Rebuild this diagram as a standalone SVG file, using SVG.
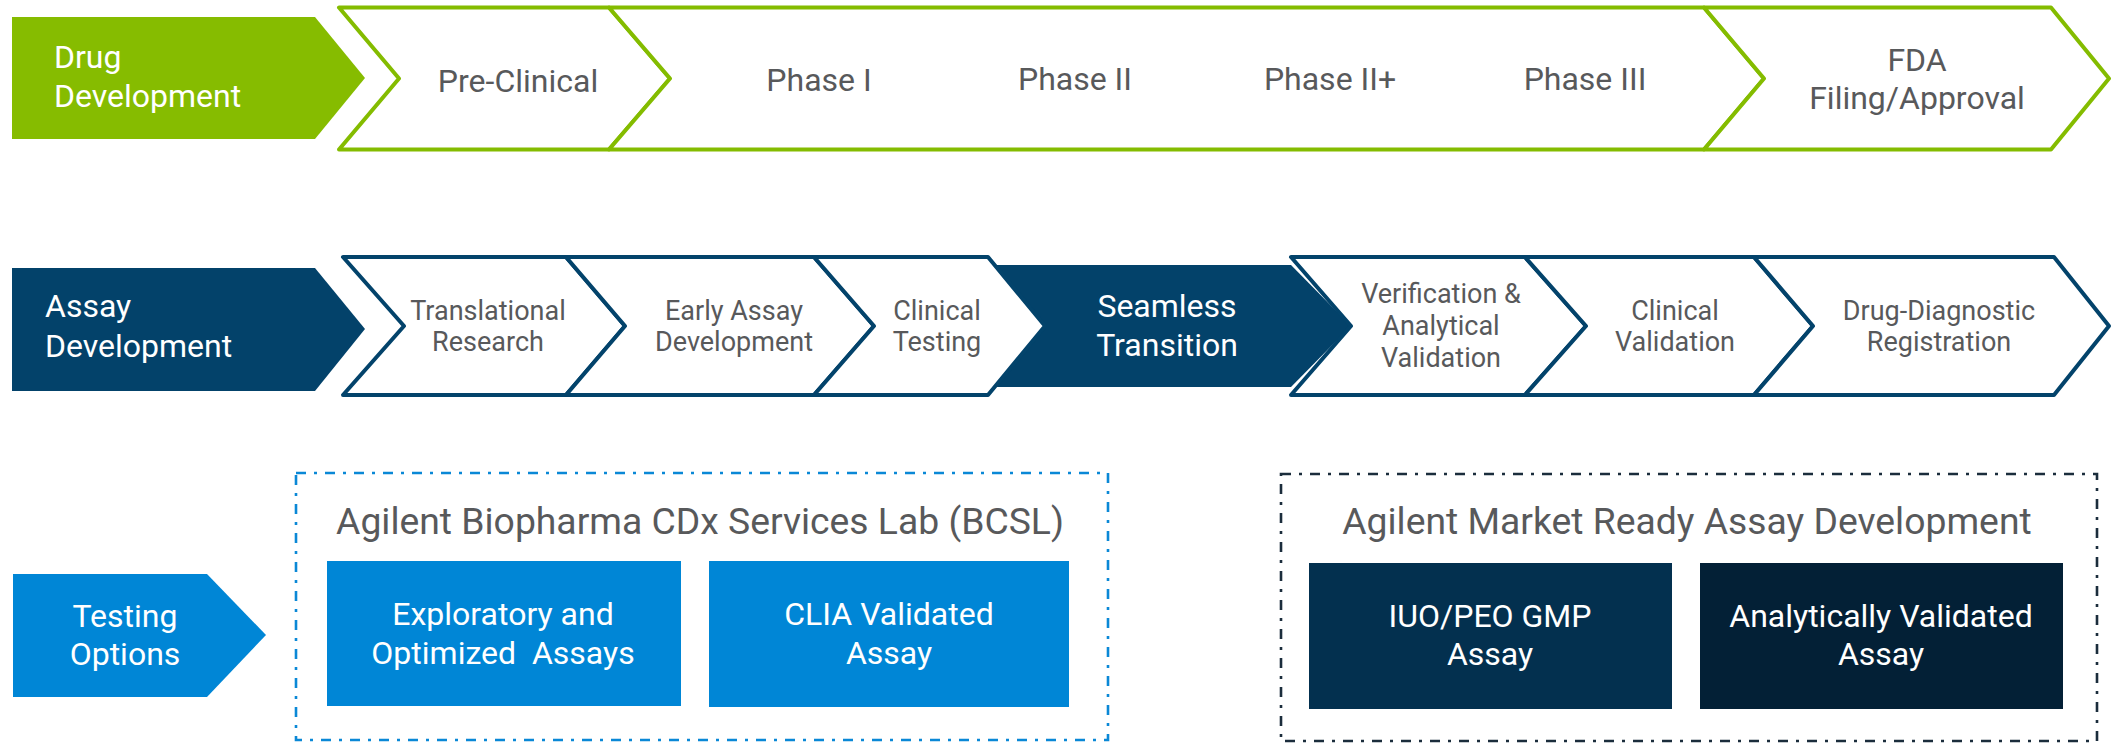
<svg xmlns="http://www.w3.org/2000/svg" width="2113" height="743" viewBox="0 0 2113 743">
<style>
text{font-family:Roboto,"Liberation Sans",sans-serif;text-anchor:middle}
.g{fill:#58595b}
.w{fill:#ffffff}
.lab{font-size:32px;text-anchor:start}
.t1{font-size:32px}
.t2{font-size:27px}
.t3{font-size:32px}
.ttl{font-size:37.3px}
.cg{fill:#ffffff;stroke:#84bc00;stroke-width:4;stroke-linejoin:round}
.cb{fill:#ffffff;stroke:#03436b;stroke-width:4;stroke-linejoin:round}
</style>
<rect width="2113" height="743" fill="#ffffff"/>
<g id="drug-row">
<g id="drug-label"><path d="M12,17 L315,17 L365,78 L315,139 L12,139 Z" fill="#86bc00"/>
<text class="w lab" x="54" y="68">Drug</text><text class="w lab" x="54" y="107">Development</text></g>
<g id="pre-clinical"><path class="cg" d="M339,7.5 L609,7.5 L670,78.5 L609,149.5 L339,149.5 L399,78.5 Z"/>
<text class="g t1" x="518" y="92">Pre-Clinical</text></g>
<g id="phases"><path class="cg" d="M609,7.5 L1704,7.5 L1764,78.5 L1704,149.5 L609,149.5 L670,78.5 Z"/>
<text class="g t1" x="819" y="91">Phase I</text>
<text class="g t1" x="1075" y="90">Phase II</text>
<text class="g t1" x="1330" y="90">Phase II+</text>
<text class="g t1" x="1585" y="90">Phase III</text></g>
<g id="fda"><path class="cg" d="M1704,7.5 L2051,7.5 L2109,78.5 L2051,149.5 L1704,149.5 L1764,78.5 Z"/>
<text class="g t1" x="1917" y="71">FDA</text><text class="g t1" x="1917" y="109">Filing/Approval</text></g>
</g>
<g id="assay-row">
<g id="assay-label"><path d="M12,268 L315,268 L365,329 L315,391 L12,391 Z" fill="#03426a"/>
<text class="w lab" x="45" y="317">Assay</text><text class="w lab" x="45" y="357">Development</text></g>
<g id="seamless"><path d="M985,265 L1291,265 L1351,326 L1291,387 L985,387 Z" fill="#03426a"/>
<text class="w t3" x="1167" y="317">Seamless</text><text class="w t3" x="1167" y="356">Transition</text></g>
<g id="translational"><path class="cb" d="M343,257 L566,257 L625,326 L566,395 L343,395 L404,326 Z"/>
<text class="g t2" x="488" y="320">Translational</text><text class="g t2" x="488" y="351">Research</text></g>
<g id="early-assay"><path class="cb" d="M566,257 L814,257 L874,326 L814,395 L566,395 L625,326 Z"/>
<text class="g t2" x="734" y="320">Early Assay</text><text class="g t2" x="734" y="351">Development</text></g>
<g id="clinical-testing"><path class="cb" d="M814,257 L988,257 L1045,326 L988,395 L814,395 L874,326 Z"/>
<text class="g t2" x="937" y="320">Clinical</text><text class="g t2" x="937" y="351">Testing</text></g>
<g id="verification"><path class="cb" d="M1291,257 L1525,257 L1586,326 L1525,395 L1291,395 L1351,326 Z"/>
<text class="g t2" x="1441" y="303">Verification &amp;</text><text class="g t2" x="1441" y="335">Analytical</text><text class="g t2" x="1441" y="367">Validation</text></g>
<g id="clinical-validation"><path class="cb" d="M1525,257 L1754,257 L1813,326 L1754,395 L1525,395 L1586,326 Z"/>
<text class="g t2" x="1675" y="320">Clinical</text><text class="g t2" x="1675" y="351">Validation</text></g>
<g id="registration"><path class="cb" d="M1754,257 L2054,257 L2109,326 L2054,395 L1754,395 L1813,326 Z"/>
<text class="g t2" x="1939" y="320">Drug-Diagnostic</text><text class="g t2" x="1939" y="351">Registration</text></g>
</g>
<g id="testing-row">
<g id="testing-label"><path d="M13,574 L207,574 L266,635 L207,697 L13,697 Z" fill="#0086d6"/>
<text class="w t3" x="125" y="627">Testing</text><text class="w t3" x="125" y="665">Options</text></g>
<g id="bcsl"><rect x="296" y="473" width="812" height="267" fill="none" stroke="#0a88d6" stroke-width="2.6" stroke-dasharray="10 8 3 8"/>
<text class="g ttl" x="700" y="534">Agilent Biopharma CDx Services Lab (BCSL)</text></g>
<g id="exploratory"><rect x="327" y="561" width="354" height="145" fill="#0086d6"/>
<text class="w t3" x="503" y="625">Exploratory and</text><text class="w t3" x="503" y="664" xml:space="preserve">Optimized  Assays</text></g>
<g id="clia"><rect x="709" y="561" width="360" height="146" fill="#0086d6"/>
<text class="w t3" x="889" y="625">CLIA Validated</text><text class="w t3" x="889" y="664">Assay</text></g>
<g id="market-ready"><rect x="1281" y="474" width="816" height="267" fill="none" stroke="#1b2d3c" stroke-width="2.6" stroke-dasharray="10 8 3 8"/>
<text class="g ttl" x="1687" y="534">Agilent Market Ready Assay Development</text></g>
<g id="iuo"><rect x="1309" y="563" width="363" height="146" fill="#03304f"/>
<text class="w t3" x="1490" y="627">IUO/PEO GMP</text><text class="w t3" x="1490" y="665">Assay</text></g>
<g id="analytical"><rect x="1700" y="563" width="363" height="146" fill="#032036"/>
<text class="w t3" x="1881" y="627">Analytically Validated</text><text class="w t3" x="1881" y="665">Assay</text></g>
</g>
<g id="connectors"/>
</svg>
